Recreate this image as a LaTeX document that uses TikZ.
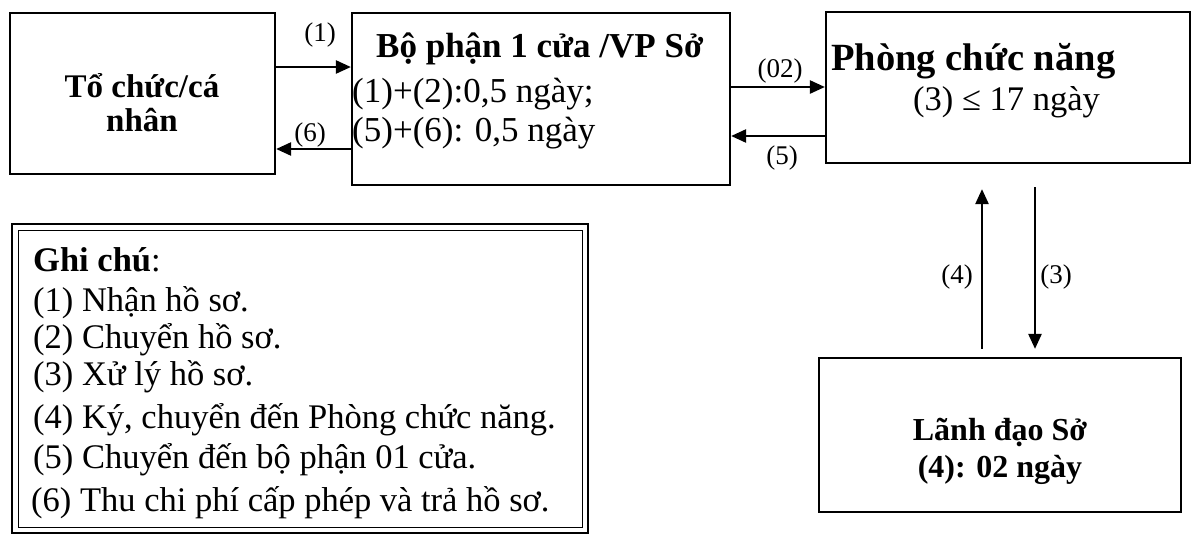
\documentclass[tikz,border=0pt]{standalone}
\usepackage{fontspec}
\setmainfont{Liberation Serif}
\usetikzlibrary{arrows.meta}
\begin{document}
\begin{tikzpicture}[x=1pt,y=-1pt,
  box/.style={draw,line width=2.2pt,inner sep=0pt},
  conn/.style={line width=2.4pt,-{Triangle[length=15pt,width=13pt]}},
  lbl/.style={font=\fontsize{27}{30}\selectfont,inner sep=0pt},
  ttl/.style={font=\fontsize{35}{40}\selectfont\bfseries,inner sep=0pt,anchor=base west},
  ttlc/.style={font=\fontsize{33}{40}\selectfont\bfseries,inner sep=0pt,anchor=base},
  txt/.style={font=\fontsize{34.5}{40}\selectfont,inner sep=0pt,anchor=base west}]
\useasboundingbox (0,0) rectangle (1194,536);
% boxes
\node[box,minimum width=265pt,minimum height=161pt] (b1) at (142.5,93.5) {};
\node[box,minimum width=378pt,minimum height=172pt] (b2) at (541,99) {};
\node[box,minimum width=364pt,minimum height=151pt] (b3) at (1008,87.5) {};
\node[box,minimum width=362pt,minimum height=154pt] (b4) at (1000,435) {};
% legend double frame
\node[draw,line width=2.5pt,minimum width=576pt,minimum height=309pt,inner sep=0pt] (lgo) at (300,378.5) {};
\node[draw,line width=1pt,minimum width=564pt,minimum height=297pt,inner sep=0pt] (lgi) at (300,378.5) {};
% box texts
\node[ttlc] (t1a) at (142,97) {Tổ chức/cá};
\node[ttlc] (t1b) at (142,131) {nhân};
\node[ttl] (t2a) at (376,57) {Bộ phận 1 cửa /VP Sở};
\node[txt,font=\fontsize{35}{40}\selectfont] (t2b) at (352,102) {(1)+(2):0,5 ngày;};
\node[txt,font=\fontsize{35}{40}\selectfont] (t2c) at (352,141) {(5)+(6): 0,5 ngày};
\node[ttl,font=\fontsize{38.5}{44}\selectfont\bfseries] (t3a) at (831,70) {Phòng chức năng};
\node[txt] (t3b) at (913,110) {(3) ≤ 17 ngày};
\node[ttlc,font=\fontsize{32}{40}\selectfont\bfseries] (t4a) at (1000,440) {Lãnh đạo Sở};
\node[ttlc,font=\fontsize{32}{40}\selectfont\bfseries] (t4b) at (1000,477) {(4): 02 ngày};
% legend texts
\node[txt] (g0) at (33,271) {\textbf{Ghi chú}:};
\node[txt] (g1) at (33,311) {(1) Nhận hồ sơ.};
\node[txt] (g2) at (33,348) {(2) Chuyển hồ sơ.};
\node[txt] (g3) at (33,385) {(3) Xử lý hồ sơ.};
\node[txt] (g4) at (33,428) {(4) Ký, chuyển đến Phòng chức năng.};
\node[txt] (g5) at (33,468) {(5) Chuyển đến bộ phận 01 cửa.};
\node[txt] (g6) at (31,511) {(6) Thu chi phí cấp phép và trả hồ sơ.};
% helper coordinates
\coordinate (y1) at (0,67);
\coordinate (y6) at (0,149);
\coordinate (y02) at (0,87);
\coordinate (y5) at (0,136);
\coordinate (x4) at (982,0);
\coordinate (x3) at (1035,0);
% connectors
\draw[conn] (b1.east |- y1) -- (b2.west |- y1);
\draw[conn] (b2.west |- y6) -- (b1.east |- y6);
\draw[conn] (b2.east |- y02) -- (b3.west |- y02);
\draw[conn] (b3.west |- y5) -- (b2.east |- y5);
\draw[conn,shorten <=8pt,shorten >=25pt] (b4.north -| x4) -- (b3.south -| x4);
\draw[conn,shorten <=23pt,shorten >=8pt] (b3.south -| x3) -- (b4.north -| x3);
% labels
\node[lbl] (l1) at (320,35) {(1)};
\node[lbl] (l6) at (310,135) {(6)};
\node[lbl] (l02) at (780,71) {(02)};
\node[lbl] (l5) at (782,158) {(5)};
\node[lbl] (l4) at (957,277) {(4)};
\node[lbl] (l3) at (1056,277) {(3)};
\end{tikzpicture}
\end{document}
